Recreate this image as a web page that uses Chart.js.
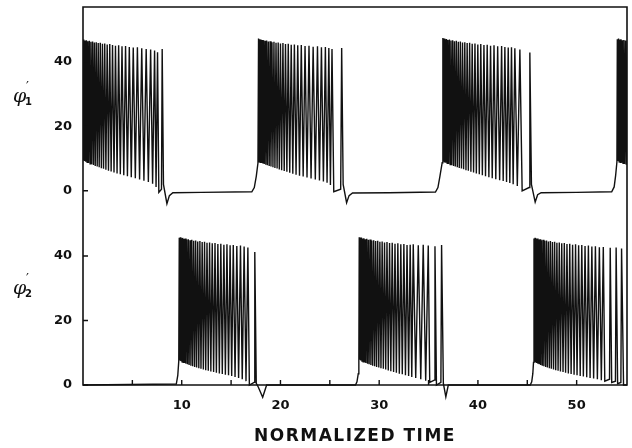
<!DOCTYPE html>
<html>
<head>
<meta charset="utf-8">
<script src="https://cdn.jsdelivr.net/npm/chart.js@4.4.1/dist/chart.umd.min.js"></script>
<style>
  html,body{margin:0;padding:0;background:#fff;}
  #wrap{position:relative;width:632px;height:448px;overflow:hidden;background:#fff;}
  #c1{position:absolute;left:0;top:0;}
  #c2{position:absolute;left:0;top:214px;}
  .yl{position:absolute;font-family:'DejaVu Serif',serif;font-style:italic;font-size:19px;color:#111;line-height:1;}
  .yl .pr{position:absolute;left:13px;top:-6px;font-size:13px;font-style:normal;}
  .yl .sb{position:absolute;left:12px;top:11px;font-size:10px;font-style:normal;font-family:'DejaVu Sans',sans-serif;font-weight:bold;}
  #xt{position:absolute;left:83px;width:544px;top:425px;text-align:center;font-family:'DejaVu Sans',sans-serif;font-weight:bold;font-size:17px;letter-spacing:1.5px;color:#111;}
</style>
</head>
<body>
<div id="wrap">
  <canvas id="c1" width="632" height="214" style="width:632px;height:214px"></canvas>
  <canvas id="c2" width="632" height="234" style="width:632px;height:234px"></canvas>
  <div class="yl" style="left:13px;top:86px">φ<span class="pr">′</span><span class="sb">1</span></div>
  <div class="yl" style="left:13px;top:278px">φ<span class="pr">′</span><span class="sb">2</span></div>
  <div id="xt">NORMALIZED TIME</div>
</div>
<script>
// ---------- tick labels ----------
const xTickLabels = [10, 20, 30, 40, 50];
const xMinorTicks = [5, 10, 15, 20, 25, 30, 35, 40, 45, 50];
const yTickLabels = [0, 20, 40];

// ---------- phi'1 (upper trace) : bursts ----------
const p1b1PeakT = [0.00,0.10,0.22,0.35,0.49,0.64,0.80,0.97,1.15,1.34,1.54,1.75,1.97,2.20,2.45,2.71,2.99,3.29,3.61,3.95,4.31,4.69,5.09,5.51,5.95,6.40,6.85,7.25,7.55,8.02];
const p1b1PeakV = [46.8,46.9,46.6,46.7,46.4,46.5,46.2,46.3,46.0,46.1,45.8,45.9,45.6,45.7,45.4,45.5,45.2,45.0,45.1,44.8,44.9,44.6,44.4,44.5,44.2,44.0,43.8,43.5,43.0,44.0];
const p1b1LowT  = [0.05,0.16,0.28,0.42,0.56,0.72,0.88,1.06,1.24,1.44,1.64,1.86,2.08,2.32,2.58,2.85,3.14,3.45,3.78,4.13,4.50,4.89,5.30,5.73,6.17,6.62,7.05,7.40,7.68];
const p1b1LowV  = [9.4,9.2,9.0,8.8,8.6,8.4,8.2,8.0,7.7,7.5,7.3,7.0,6.8,6.5,6.2,6.0,5.7,5.4,5.1,4.8,4.5,4.2,3.9,3.5,3.1,2.7,2.2,1.2,-0.5];

const p1b2PeakT = [17.78,17.90,18.02,18.15,18.29,18.44,18.60,18.77,18.95,19.14,19.34,19.55,19.77,20.00,20.25,20.51,20.79,21.09,21.41,21.75,22.11,22.49,22.89,23.31,23.75,24.15,24.55,24.90,25.22,26.20];
const p1b2PeakV = [47.2,47.0,46.9,46.8,46.7,46.5,46.6,46.3,46.4,46.1,46.2,45.9,46.0,45.7,45.8,45.5,45.6,45.3,45.4,45.1,45.2,44.9,45.0,44.7,44.8,44.5,44.6,44.3,44.0,44.3];
const p1b2LowT  = [17.84,17.96,18.08,18.22,18.36,18.52,18.68,18.86,19.04,19.24,19.44,19.66,19.88,20.12,20.38,20.65,20.94,21.25,21.58,21.93,22.30,22.69,23.10,23.53,23.95,24.35,24.72,25.06,25.40];
const p1b2LowV  = [9.0,8.8,8.6,8.5,8.3,8.1,7.9,7.7,7.5,7.3,7.1,6.9,6.6,6.4,6.1,5.9,5.6,5.3,5.0,4.7,4.4,4.1,3.8,3.5,3.2,2.9,2.5,1.8,-0.3];

const p1b3PeakT = [36.45,36.57,36.69,36.82,36.96,37.11,37.27,37.44,37.62,37.81,38.01,38.22,38.44,38.67,38.91,39.16,39.42,39.70,39.99,40.29,40.61,40.94,41.28,41.63,42.00,42.40,42.73,43.07,43.40,43.74,44.25,45.26];
const p1b3PeakV = [47.4,47.2,47.0,47.1,46.8,46.9,46.6,46.7,46.4,46.5,46.2,46.3,46.0,46.1,45.8,45.9,45.6,45.7,45.4,45.5,45.2,45.3,45.0,45.1,44.8,44.9,44.6,44.4,44.5,44.2,43.8,42.9];
const p1b3LowT  = [36.51,36.63,36.75,36.89,37.03,37.19,37.35,37.53,37.71,37.91,38.11,38.33,38.55,38.79,39.03,39.29,39.56,39.84,40.14,40.45,40.77,41.11,41.45,41.81,42.20,42.56,42.90,43.23,43.57,43.99,44.48];
const p1b3LowV  = [9.0,8.8,8.7,8.5,8.3,8.1,7.9,7.7,7.5,7.3,7.1,6.9,6.7,6.4,6.2,5.9,5.7,5.4,5.1,4.8,4.5,4.2,3.9,3.6,3.3,3.0,2.7,2.4,2.0,1.5,0.0];

const p1b4PeakT = [54.12,54.24,54.36,54.49,54.63,54.78,54.94,55.11,55.29];
const p1b4PeakV = [47.0,47.2,46.9,47.0,46.7,46.8,46.6,46.5,46.4];
const p1b4LowT  = [54.18,54.30,54.42,54.56,54.70,54.86,55.02,55.20];
const p1b4LowV  = [9.2,9.0,8.8,8.7,8.5,8.3,8.1,7.9];

// phi'1 slow recovery before the isolated last spikes of a burst
const p1RampT = [7.95, 26.10, 45.18];
const p1RampV = [0.5, 0.5, 1.0];

// phi'1 between bursts (after-dip and resting level, onset ramps)
const p1RestT = [8.15,8.50,8.75,9.10,12.0,17.10,17.35,17.55,17.72, 26.35,26.70,26.95,27.30,31.0,35.70,35.95,36.15,36.38, 45.42,45.80,46.05,46.40,50.0,53.55,53.80,53.95,54.08];
const p1RestV = [2.0,-4.0,-1.5,-0.6,-0.5,-0.3,1.0,4.5,8.6, 2.0,-3.7,-1.5,-0.7,-0.6,-0.4,1.0,4.5,8.7, 2.0,-3.5,-1.2,-0.6,-0.5,-0.3,1.2,4.8,9.0];

// ---------- phi'2 (lower trace) : bursts ----------
const p2b1PeakT = [9.75,9.86,9.97,10.09,10.22,10.36,10.51,10.67,10.84,11.02,11.21,11.41,11.62,11.84,12.07,12.31,12.56,12.82,13.09,13.37,13.66,13.96,14.27,14.58,14.90,15.22,15.58,15.95,16.32,16.70,17.40];
const p2b1PeakV = [45.6,45.8,45.5,45.6,45.3,45.4,45.1,45.2,44.9,45.0,44.7,44.8,44.5,44.6,44.3,44.4,44.1,44.2,43.9,44.0,43.7,43.8,43.5,43.6,43.3,43.4,43.1,43.2,42.9,42.6,41.2];
const p2b1LowT  = [9.80,9.91,10.03,10.15,10.29,10.43,10.59,10.75,10.93,11.11,11.31,11.51,11.73,11.95,12.19,12.43,12.69,12.95,13.23,13.51,13.81,14.11,14.42,14.74,15.06,15.40,15.76,16.13,16.51,16.85];
const p2b1LowV  = [7.6,7.4,7.2,7.0,6.8,6.6,6.4,6.2,6.0,5.8,5.6,5.4,5.2,5.0,4.8,4.6,4.4,4.2,4.0,3.8,3.6,3.4,3.2,3.0,2.8,2.5,2.2,1.8,1.2,0.0];

const p2b2PeakT = [27.98,28.09,28.20,28.32,28.45,28.59,28.74,28.90,29.07,29.25,29.44,29.64,29.85,30.07,30.30,30.54,30.79,31.05,31.32,31.60,31.89,32.19,32.50,32.82,33.14,33.45,33.96,34.46,34.97,35.65,36.32];
const p2b2PeakV = [45.8,45.6,45.7,45.4,45.5,45.2,45.3,45.0,45.1,44.8,44.9,44.6,44.7,44.4,44.5,44.2,44.3,44.0,44.1,43.8,43.9,43.6,43.7,43.4,43.5,43.6,43.3,43.5,43.2,43.0,43.4];
const p2b2LowT  = [28.03,28.14,28.26,28.38,28.52,28.66,28.82,28.98,29.16,29.34,29.54,29.74,29.96,30.18,30.42,30.66,30.92,31.18,31.46,31.74,32.04,32.34,32.66,32.98,33.30,33.70,34.21,34.71,35.12,35.80];
const p2b2LowV  = [7.8,7.6,7.4,7.2,7.0,6.8,6.6,6.4,6.2,6.0,5.8,5.6,5.4,5.2,5.0,4.8,4.5,4.3,4.0,3.8,3.5,3.3,3.0,2.8,2.5,2.2,1.8,1.3,0.8,0.0];

const p2b3PeakT = [45.68,45.79,45.90,46.02,46.15,46.29,46.44,46.60,46.77,46.95,47.14,47.34,47.55,47.77,48.00,48.24,48.49,48.75,49.02,49.30,49.59,49.89,50.20,50.52,50.85,51.19,51.54,51.90,52.30,52.70,53.40,54.00,54.55];
const p2b3PeakV = [45.4,45.6,45.3,45.4,45.1,45.2,44.9,45.0,44.7,44.8,44.5,44.6,44.3,44.4,44.1,44.2,43.9,44.0,43.7,43.8,43.5,43.6,43.3,43.4,43.1,43.2,42.9,43.0,42.7,42.8,42.5,42.6,42.3];
const p2b3LowT  = [45.73,45.84,45.96,46.08,46.22,46.36,46.52,46.68,46.86,47.04,47.24,47.44,47.66,47.88,48.12,48.36,48.62,48.88,49.16,49.44,49.74,50.04,50.36,50.68,51.02,51.36,51.72,52.10,52.50,52.85,53.55,54.15,54.75];
const p2b3LowV  = [7.2,7.0,6.8,6.6,6.4,6.2,6.0,5.8,5.6,5.4,5.2,5.0,4.8,4.6,4.4,4.2,4.0,3.8,3.6,3.4,3.2,3.0,2.8,2.6,2.4,2.2,2.0,1.8,1.5,1.2,0.8,0.4,0.0];

// phi'2 slow recovery before the isolated late spikes
const p2RampT = [17.33, 35.58, 36.25, 53.33, 53.93, 54.48];
const p2RampV = [0.8, 1.5, 0.8, 1.8, 1.2, 0.8];

// phi'2 between bursts
const p2RestT = [0,9.45,9.60,9.70, 17.55,17.75,18.20,18.60,27.60,27.75,27.88,27.94, 36.50,36.75,37.00,45.30,45.45,45.56,45.63, 55.2];
const p2RestV = [0,0.3,3.0,7.4, 0.5,-0.6,-3.8,0.0,0.0,1.0,3.5,7.5, 0.5,-3.7,0.0,0.0,1.0,3.5,7.0, 0.0];

// ---------- build traces ----------
function burst(pt, pv, lt, lv) {
  const out = [];
  for (let i = 0; i < pt.length; i++) {
    out.push({x: pt[i], y: pv[i]});
    if (i < lt.length) out.push({x: lt[i], y: lv[i]});
  }
  return out;
}
function rest(t, v) { return t.map((x, i) => ({x, y: v[i]})); }
function bySort(a) { return a.sort((p, q) => p.x - q.x); }

const trace1 = bySort([].concat(
  burst(p1b1PeakT, p1b1PeakV, p1b1LowT, p1b1LowV),
  burst(p1b2PeakT, p1b2PeakV, p1b2LowT, p1b2LowV),
  burst(p1b3PeakT, p1b3PeakV, p1b3LowT, p1b3LowV),
  burst(p1b4PeakT, p1b4PeakV, p1b4LowT, p1b4LowV),
  rest(p1RampT, p1RampV),
  rest(p1RestT, p1RestV)));
const trace2 = bySort([].concat(
  burst(p2b1PeakT, p2b1PeakV, p2b1LowT, p2b1LowV),
  burst(p2b2PeakT, p2b2PeakV, p2b2LowT, p2b2LowV),
  burst(p2b3PeakT, p2b3PeakV, p2b3LowT, p2b3LowV),
  rest(p2RampT, p2RampV),
  rest(p2RestT, p2RestV)));

// ---------- styling ----------
const INK = '#111111';
const tickFont = {family: "'DejaVu Sans', sans-serif", weight: 'bold', size: 13};

function framePlugin(isTop) {
  return {
    id: 'frame' + (isTop ? 'T' : 'B'),
    afterDatasetsDraw(chart) {
      const {ctx, chartArea: a, scales} = chart;
      ctx.save();
      ctx.strokeStyle = INK;
      ctx.lineWidth = 1.6;
      ctx.beginPath();
      if (isTop) {
        ctx.moveTo(a.left, chart.height);
        ctx.lineTo(a.left, a.top);
        ctx.lineTo(a.right, a.top);
        ctx.lineTo(a.right, chart.height);
      } else {
        ctx.moveTo(a.left, 0);
        ctx.lineTo(a.left, a.bottom);
        ctx.lineTo(a.right, a.bottom);
        ctx.lineTo(a.right, 0);
      }
      ctx.stroke();
      // inward ticks
      ctx.lineWidth = 1.4;
      ctx.beginPath();
      yTickLabels.forEach(v => {
        const y = scales.y.getPixelForValue(v);
        ctx.moveTo(a.left, y);
        ctx.lineTo(a.left + 5, y);
      });
      if (!isTop) {
        xMinorTicks.forEach(v => {
          const x = scales.x.getPixelForValue(v);
          ctx.moveTo(x, a.bottom);
          ctx.lineTo(x, a.bottom - 5);
        });
      }
      ctx.stroke();
      ctx.restore();
    }
  };
}

function makeChart(id, data, isTop) {
  return new Chart(document.getElementById(id), {
    type: 'line',
    data: {
      datasets: [{
        data: data,
        borderColor: INK,
        borderWidth: 1.4,
        pointRadius: 0,
        tension: 0,
        fill: false,
        clip: isTop ? 0 : {left: 0, top: 0, right: 0, bottom: 20}
      }]
    },
    options: {
      responsive: false,
      animation: false,
      devicePixelRatio: 1,
      parsing: false,
      layout: {padding: isTop ? {top: 7, right: 5, left: 0, bottom: 0} : {top: 0, right: 5, left: 0, bottom: 0}},
      plugins: {legend: {display: false}, tooltip: {enabled: false}},
      scales: {
        x: {
          type: 'linear',
          min: 0, max: 55.1,
          display: !isTop,
          afterBuildTicks: s => { s.ticks = xTickLabels.map(v => ({value: v})); },
          afterFit: s => { s.height = isTop ? 0 : 63; s.paddingLeft = 0; s.paddingRight = 0; },
          grid: {display: false, drawTicks: false},
          border: {display: false},
          ticks: {font: tickFont, color: INK, padding: 13, maxRotation: 0, autoSkip: false}
        },
        y: {
          type: 'linear',
          min: isTop ? -7.2 : 0,
          max: isTop ? 57 : 53,
          afterBuildTicks: s => { s.ticks = yTickLabels.map(v => ({value: v})); },
          afterFit: s => { s.width = 83; s.paddingTop = 0; s.paddingBottom = 0; },
          grid: {display: false, drawTicks: false},
          border: {display: false},
          ticks: {font: tickFont, color: INK, padding: 11}
        }
      }
    },
    plugins: [framePlugin(isTop)]
  });
}

makeChart('c1', trace1, true);
makeChart('c2', trace2, false);
</script>
</body>
</html>
